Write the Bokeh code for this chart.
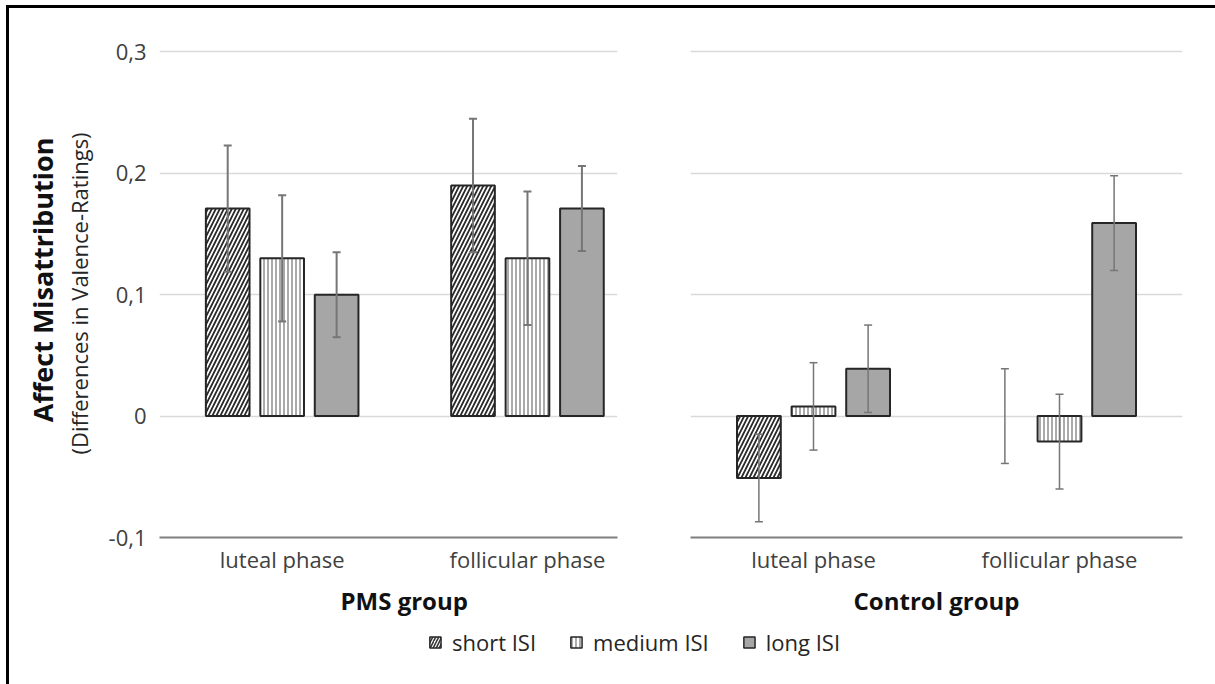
from bokeh.plotting import figure
from bokeh.models import (ColumnDataSource, Range1d, FixedTicker, CustomJSTickFormatter,
                          Whisker, TeeHead, Title, Legend, LegendItem)
from bokeh.layouts import column, row
from bokeh.embed import file_html
from bokeh.resources import INLINE

# ---------------- data ----------------
phases = ["luteal phase", "follicular phase"]
series_names = ["short ISI", "medium ISI", "long ISI"]
groups = ["PMS group", "Control group"]

pms_short = [0.171, 0.190]
pms_medium = [0.130, 0.130]
pms_long = [0.100, 0.171]
pms_short_err = [0.052, 0.055]
pms_medium_err = [0.052, 0.055]
pms_long_err = [0.035, 0.035]

ctrl_short = [-0.051, 0.0]
ctrl_medium = [0.008, -0.021]
ctrl_long = [0.039, 0.159]
ctrl_short_err = [0.036, 0.039]
ctrl_medium_err = [0.036, 0.039]
ctrl_long_err = [0.036, 0.039]

y_ticks = [-0.1, 0.0, 0.1, 0.2, 0.3]
y_title = "Affect Misattribution"
y_subtitle = "(Differences in Valence-Ratings)"

# ---------------- styles ----------------
FONT = "Open Sans"
styles = [
    dict(fill_color="white", hatch_pattern="/", hatch_color="#2b2b2b", hatch_scale=8, hatch_weight=1.8),
    dict(fill_color="white", hatch_pattern="|", hatch_color="#555555", hatch_scale=4, hatch_weight=1),
    dict(fill_color="#a6a6a6"),
]
offsets = [-0.222, 0.0, 0.222]
bar_w = 0.178


def make_panel(values, errors, x_end, width, mb_left, mb_right, show_y, err_w):
    p = figure(width=width, height=614, x_range=Range1d(-0.5, x_end), y_range=Range1d(-0.1, 0.302),
               output_backend="svg", toolbar_location=None,
               min_border_left=mb_left, min_border_right=mb_right,
               min_border_top=41, min_border_bottom=85)
    p.outline_line_color = None
    for i, (vals, errs) in enumerate(zip(values, errors)):
        xs = [j + offsets[i] for j in range(len(phases))]
        src = ColumnDataSource(dict(
            x=xs, top=vals,
            upper=[v + e for v, e in zip(vals, errs)],
            lower=[v - e for v, e in zip(vals, errs)],
            la=[0.0 if v == 0 else 1.0 for v in vals],
        ))
        p.vbar(x="x", top="top", bottom=0, width=bar_w, source=src,
               line_color="#262626", line_width=2, line_alpha="la", **styles[i])
        w = Whisker(base="x", upper="upper", lower="lower", source=src, dimension="height",
                    line_color="#767676", line_width=err_w, level="annotation",
                    upper_head=TeeHead(size=8, line_color="#767676", line_width=err_w),
                    lower_head=TeeHead(size=8, line_color="#767676", line_width=err_w))
        p.add_layout(w)

    p.xaxis.ticker = FixedTicker(ticks=list(range(len(phases))))
    p.xaxis.formatter = CustomJSTickFormatter(args=dict(cats=phases),
                                              code="return cats[Math.round(tick)] || '';")
    p.xaxis.major_tick_line_color = None
    p.xaxis.minor_tick_line_color = None
    p.xaxis.axis_line_color = "#7f7f7f"
    p.xaxis.axis_line_width = 2
    p.xaxis.major_label_standoff = 0
    p.xaxis.major_label_text_font = FONT
    p.xaxis.major_label_text_font_size = "22px"
    p.xaxis.major_label_text_color = "#404040"
    p.xgrid.visible = False

    p.yaxis.ticker = FixedTicker(ticks=y_ticks)
    p.ygrid.ticker = FixedTicker(ticks=y_ticks)
    p.ygrid.grid_line_color = "#d9d9d9"
    p.ygrid.grid_line_width = 1.5
    p.yaxis.formatter = CustomJSTickFormatter(
        code="return Math.abs(tick) < 1e-9 ? '0' : tick.toFixed(1).replace('.', ',');")
    p.yaxis.axis_line_color = None
    p.yaxis.major_tick_line_color = None
    p.yaxis.minor_tick_line_color = None
    p.yaxis.major_label_standoff = 7
    p.yaxis.major_label_text_font = FONT
    p.yaxis.major_label_text_font_size = "22px"
    p.yaxis.major_label_text_color = "#404040"
    if not show_y:
        p.yaxis.visible = False
    return p


left = make_panel([pms_short, pms_medium, pms_long],
                  [pms_short_err, pms_medium_err, pms_long_err],
                  1.367, 644, 150, 36, True, 2)
right = make_panel([ctrl_short, ctrl_medium, ctrl_long],
                   [ctrl_short_err, ctrl_medium_err, ctrl_long_err],
                   1.5, 562, 37, 33, False, 1.5)

# group labels below each panel
left.add_layout(Title(text=groups[0], align="left", offset=181, standoff=10,
                      text_font=FONT, text_font_style="bold", text_font_size="24px",
                      text_color="#111111"), "below")
right.add_layout(Title(text=groups[1], align="center", standoff=10,
                       text_font=FONT, text_font_style="bold", text_font_size="24px",
                       text_color="#111111"), "below")

# y-axis titles
left.yaxis.axis_label = y_subtitle
left.yaxis.axis_label_text_font = FONT
left.yaxis.axis_label_text_font_style = "normal"
left.yaxis.axis_label_text_font_size = "22px"
left.yaxis.axis_label_text_color = "#262626"
left.yaxis.axis_label_text_line_height = 0.9
left.yaxis.axis_label_standoff = 12
left.add_layout(Title(text=y_title, align="right", offset=88, standoff=0,
                      text_line_height=0.9,
                      text_font=FONT, text_font_style="bold", text_font_size="27px",
                      text_color="#111111"), "left")

# legend figure
lf = figure(width=1206, height=62, x_range=Range1d(0, 1), y_range=Range1d(0, 1),
            output_backend="svg", toolbar_location=None,
            min_border_left=44, min_border_right=0, min_border_top=0, min_border_bottom=0)
lf.outline_line_color = None
lf.axis.visible = False
lf.grid.visible = False
items = []
for name, st, vals in zip(series_names, styles, [pms_short, pms_medium, pms_long]):
    st2 = dict(st)
    if "hatch_scale" in st2:
        st2["hatch_scale"] = 6 if st2["hatch_pattern"] == "/" else 4
        st2["hatch_weight"] = 1.5 if st2["hatch_pattern"] == "/" else 1
    r = lf.vbar(x=[0], top=vals[:1], width=0.1, line_color="#262626", line_width=1.5, **st2)
    r.visible = False
    items.append(LegendItem(label=name, renderers=[r]))
legend = Legend(items=items, orientation="horizontal", location="top_center",
                glyph_width=14, glyph_height=14, label_standoff=10, spacing=33,
                padding=2, margin=5, border_line_color=None, background_fill_alpha=0,
                label_text_font=FONT, label_text_font_size="22px", label_text_color="#262626")
lf.add_layout(legend, "center")

layout = column(row(left, right), lf,
                styles={"border-top": "3px solid black", "border-left": "3px solid black",
                        "margin-left": "6px", "margin-top": "5px"})

open("out.html", "w").write(file_html(layout, INLINE))
